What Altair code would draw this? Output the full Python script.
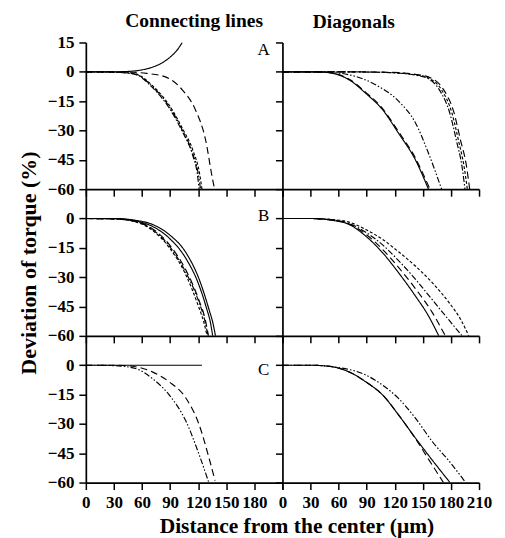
import altair as alt
import pandas as pd

# ---------------- data ----------------
# x: distance from the center (um), y: deviation of torque (%)
connA_solid_x = [0, 30, 45, 60, 70, 80, 90, 97, 103]
connA_solid_y = [0, 0, 0.2, 1.0, 2.2, 4.2, 7.5, 10.8, 15]
connA_long_x = [0, 30, 50, 65, 85, 103, 117, 128, 135, 137.5]
connA_long_y = [0, 0, -0.2, -0.8, -2.6, -9.2, -19.4, -35, -54, -60]
connA_dd_x = [0, 30, 45, 55, 71, 89, 103, 114, 119, 121]
connA_dd_y = [0, -0.2, -0.7, -1.7, -8.0, -18.5, -30.5, -42.5, -52, -60]
connA_ddd_x = [0, 30, 45, 55, 71, 89, 103, 114, 120, 122.5]
connA_ddd_y = [0, -0.2, -0.6, -1.5, -7.5, -17.7, -29.7, -41.6, -52, -60]
connA_sd_x = [0, 30, 45, 55, 71, 89, 103, 115, 121.5, 124]
connA_sd_y = [0, -0.1, -0.5, -1.3, -7.0, -17.0, -28.8, -41.0, -52, -60]

diagA_solid_x = [0, 30, 45, 53, 71, 89, 107, 124, 142, 156]
diagA_solid_y = [0, 0, -0.2, -0.7, -4, -11, -19.4, -31.4, -45, -60]
diagA_long_x = [0, 30, 45, 53, 71, 89, 107, 124, 142, 157.5]
diagA_long_y = [0, 0, -0.2, -0.6, -3.7, -10.5, -18.8, -30.6, -44, -60]
diagA_ddd_x = [0, 30, 50, 71, 99.5, 124, 142, 156, 170]
diagA_ddd_y = [0, 0, -0.3, -1.5, -6.6, -15, -26, -41.6, -60]
diagA_dd_x = [0, 60, 100, 130, 142, 156, 168, 179, 186, 192, 195]
diagA_dd_y = [0, 0, -0.2, -0.9, -1.7, -3.6, -9.5, -21.5, -35.5, -49, -60]
diagA_sd_x = [0, 60, 100, 130, 142, 156, 170, 181, 188, 194, 197.5]
diagA_sd_y = [0, 0, -0.2, -0.8, -1.5, -3.2, -9.2, -21, -35, -48.4, -60]
diagA_long2_x = [0, 60, 100, 130, 142, 158, 172, 183, 190, 196.5, 200]
diagA_long2_y = [0, 0, -0.1, -0.6, -1.3, -3.0, -9.0, -20.5, -34.5, -48, -60]

connB_solid_x = [0, 30, 53, 71, 89, 107, 121, 131.5, 136, 138.5]
connB_solid_y = [0, 0, -0.9, -3, -8.2, -17.5, -31, -46.4, -54, -60]
connB_solid2_x = [0, 30, 53, 71, 89, 107, 120, 129, 133, 135.5]
connB_solid2_y = [0, -0.1, -1.2, -4, -10, -20.5, -33, -46, -53, -60]
connB_long_x = [0, 30, 53, 71, 89, 107, 121, 127.5, 131]
connB_long_y = [0, -0.2, -1.4, -5.2, -13.2, -26.5, -42, -51.5, -60]
connB_dd_x = [0, 30, 53, 71, 89, 107, 121, 127, 130.5]
connB_dd_y = [0, -0.2, -1.5, -5.6, -14, -27.7, -43, -52, -60]
connB_sd_x = [0, 30, 53, 71, 89, 107, 120, 126, 129.5]
connB_sd_y = [0, -0.2, -1.7, -6.0, -14.8, -29, -44.5, -53, -60]

diagB_solid_x = [0, 30, 53, 71, 89, 107, 124, 142, 156, 167]
diagB_solid_y = [0, 0, -0.9, -3, -9, -17.5, -27.7, -39.6, -49.8, -60]
diagB_long_x = [0, 30, 53, 71, 89, 107, 124, 142, 160, 174]
diagB_long_y = [0, 0, -0.8, -2.7, -8, -15.8, -25, -35.8, -48, -60]
diagB_dd_x = [0, 30, 53, 71, 89, 107, 124, 142, 160, 178, 192]
diagB_dd_y = [0, 0, -0.7, -2.5, -7, -13.5, -21.5, -31, -41.5, -52, -60]
diagB_sd_x = [0, 30, 53, 71, 89, 107, 124, 142, 160, 178, 192, 199]
diagB_sd_y = [0, 0, -0.5, -1.8, -5.6, -10.7, -17, -24.3, -32.8, -43, -53, -60]

connC_solid_x = [0, 60, 124]
connC_solid_y = [0, 0, 0]
connC_long_x = [0, 30, 53, 71, 89, 107, 121, 131.5, 138]
connC_long_y = [0, 0, -0.8, -3.4, -8.5, -16.9, -30.4, -47.3, -59]
connC_ddd_x = [0, 30, 53, 71, 89, 107, 121, 131]
connC_ddd_y = [0, -0.2, -1.7, -6.8, -15.2, -28.7, -45.7, -59.5]

diagC_solid_x = [0, 30, 53, 71, 89, 107, 124, 142, 160, 179]
diagC_solid_y = [0, 0, -0.8, -3.4, -8.5, -15.2, -25.4, -37.2, -48.5, -60]
diagC_long_x = [0, 30, 53, 71, 89, 107, 124, 142, 156, 172]
diagC_long_y = [0, 0, -0.8, -3.4, -8.5, -15.2, -25.4, -37.5, -48, -60]
diagC_ddd_x = [0, 30, 60, 89, 107, 124, 142, 160, 178, 195]
diagC_ddd_y = [0, 0, -1.2, -5, -10.2, -17, -27, -39, -49, -59.5]

panels = {
    "connA": [("solid", connA_solid_x, connA_solid_y), ("long", connA_long_x, connA_long_y),
              ("dashdot", connA_dd_x, connA_dd_y), ("dashdotdot", connA_ddd_x, connA_ddd_y),
              ("short", connA_sd_x, connA_sd_y)],
    "diagA": [("solid", diagA_solid_x, diagA_solid_y), ("long", diagA_long_x, diagA_long_y),
              ("dashdotdot", diagA_ddd_x, diagA_ddd_y), ("dashdot", diagA_dd_x, diagA_dd_y),
              ("short", diagA_sd_x, diagA_sd_y), ("long2", diagA_long2_x, diagA_long2_y)],
    "connB": [("solid", connB_solid_x, connB_solid_y), ("solid2", connB_solid2_x, connB_solid2_y),
              ("long", connB_long_x, connB_long_y), ("dashdot", connB_dd_x, connB_dd_y),
              ("short", connB_sd_x, connB_sd_y)],
    "diagB": [("solid", diagB_solid_x, diagB_solid_y), ("long", diagB_long_x, diagB_long_y),
              ("dashdot", diagB_dd_x, diagB_dd_y), ("short", diagB_sd_x, diagB_sd_y)],
    "connC": [("solid", connC_solid_x, connC_solid_y), ("long", connC_long_x, connC_long_y),
              ("dashdotdot", connC_ddd_x, connC_ddd_y)],
    "diagC": [("solid", diagC_solid_x, diagC_solid_y), ("long", diagC_long_x, diagC_long_y),
              ("dashdotdot", diagC_ddd_x, diagC_ddd_y)],
}
panel_letters = {"connA": "A", "connB": "B", "connC": "C"}
letter_pos_y = {"connA": 11, "connB": 1.5, "connC": -2.5}
x_ticks = [0, 30, 60, 90, 120, 150, 180, 210]
y_ticks_top = [15, 0, -15, -30, -45, -60]
y_ticks = [0, -15, -30, -45, -60]

dash_names = ["solid", "solid2", "long", "long2", "short", "dashdot", "dashdotdot"]
dash_styles = [[1, 0], [1, 0], [7, 4], [7, 4], [3, 2], [6, 2, 1.5, 2], [6, 2, 1.5, 2, 1.5, 2]]

SERIF = "Liberation Serif"
W, H = 197, 147


def make_panel(key, col, row):
    rows = []
    for name, xs, ys in panels[key]:
        for xv, yv in zip(xs, ys):
            rows.append({"series": name, "x": xv, "y": yv})
    df = pd.DataFrame(rows)
    x_axis_kw = dict(values=x_ticks, labels=(row == 2), title=None, labelOverlap=False, labelFlush=False)
    if col == 0:
        x_axis_kw["labelExpr"] = "datum.value == 210 ? '' : datum.label"
    if row == 2 and col == 0:
        x_axis_kw.update(title="Distance from the center (μm)", titleX=211, titleY=50,
                         titleBaseline="alphabetic", titleFontSize=21.5)
    y_axis_kw = dict(values=(y_ticks_top if row == 0 else y_ticks), labels=(col == 0), title=None,
                     labelOverlap=False, labelFlush=False)
    if row == 1 and col == 0:
        y_axis_kw.update(title="Deviation of torque (%)", titlePadding=7, titleFontSize=22)
    x_axis = alt.Axis(**x_axis_kw)
    y_axis = alt.Axis(**y_axis_kw)
    x_scale = alt.Scale(domain=[0, 210], nice=False, zero=False)
    y_scale = alt.Scale(domain=[-60, 15], nice=False, zero=False)
    lines = alt.Chart(df).mark_line(interpolate="monotone", color="black", strokeWidth=1.15, clip=True).encode(
        x=alt.X("x:Q", scale=x_scale, axis=x_axis),
        y=alt.Y("y:Q", scale=y_scale, axis=y_axis),
        strokeDash=alt.StrokeDash("series:N", scale=alt.Scale(domain=dash_names, range=dash_styles), legend=None),
        detail="series:N",
    )
    layers = [lines]
    if key in panel_letters:
        lab = pd.DataFrame({"x": [190], "y": [letter_pos_y[key]], "t": [panel_letters[key]]})
        layers.append(alt.Chart(lab).mark_text(font=SERIF, fontSize=17, color="black", align="center",
                                               baseline="middle").encode(
            x=alt.X("x:Q", scale=x_scale, axis=x_axis),
            y=alt.Y("y:Q", scale=y_scale, axis=y_axis),
            text="t:N"))
    ch = alt.layer(*layers).properties(width=W, height=H)
    if row == 0:
        if col == 0:
            ch = ch.properties(title=alt.Title("Connecting lines", font=SERIF, fontSize=19.5, fontWeight="bold",
                                               dx=10, offset=2, frame="group", color="black"))
        else:
            ch = ch.properties(title=alt.Title("Diagonals", font=SERIF, fontSize=19.5, fontWeight="bold",
                                               dx=-27, offset=9, frame="group", color="black"))
    return ch


keys = [["connA", "diagA"], ["connB", "diagB"], ["connC", "diagC"]]
cells = []
for r, pair in enumerate(keys):
    cells.append(make_panel(pair[0], 0, r))
    cells.append(make_panel(pair[1], 1, r))

chart = alt.concat(*cells, columns=2, spacing=0, bounds="flush").properties(
    padding={"left": 9, "top": 2, "right": 5, "bottom": 0}
).configure_view(stroke=None).configure_axis(
    grid=False, domainColor="black", domainWidth=1.7, tickColor="black", tickWidth=1.5, tickSize=7,
    labelFont=SERIF, labelFontWeight="bold", labelFontSize=17, labelColor="black", labelPadding=5,
    titleFont=SERIF, titleFontWeight="bold", titleFontSize=20, titleColor="black",
)

chart.save("out.html", embed_options={"renderer": "svg", "actions": False})
